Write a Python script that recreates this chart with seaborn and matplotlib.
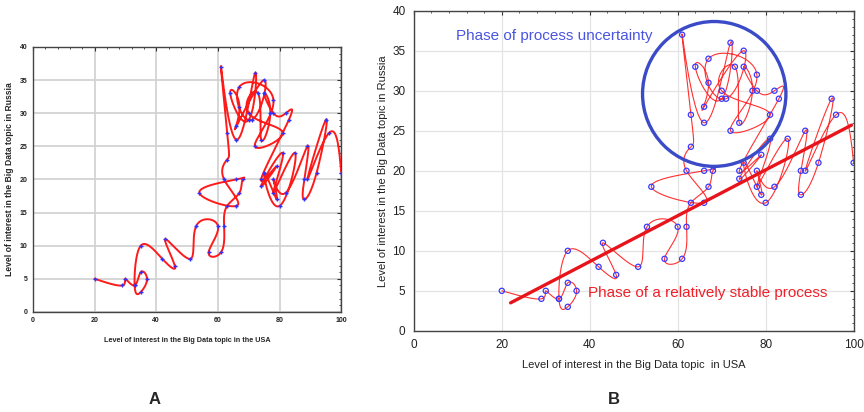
import numpy as np
import pandas as pd
import matplotlib
matplotlib.use("Agg")
import matplotlib.pyplot as plt
from matplotlib.patches import Ellipse
from matplotlib.ticker import MultipleLocator
import seaborn as sns

# ---- data (time-ordered observations) ----
usa = [20, 29, 30, 33, 35, 37, 35, 33, 35, 42, 46, 43, 51, 53, 60, 57, 61, 62,
       63, 67, 68, 66, 54, 66, 62, 63, 63, 61, 66, 72, 70, 64, 67, 66, 75, 71,
       67, 78, 72, 81, 70, 73, 74, 77, 75, 78, 82, 83, 74, 79, 74, 81, 78, 85,
       80, 75, 79, 78, 82, 89, 88, 88, 92, 95, 89, 96, 100]
russia = [5, 4, 5, 4, 6, 5, 3, 4, 10, 8, 7, 11, 8, 13, 13, 9, 9, 13,
          16, 18, 20, 20, 18, 16, 20, 23, 27, 37, 26, 36, 29, 33, 31, 28, 35, 29,
          34, 32, 25, 27, 30, 33, 26, 30, 33, 30, 30, 29, 20, 22, 19, 24, 18, 24,
          16, 21, 17, 20, 18, 25, 20, 17, 21, 29, 20, 27, 21]

# trend line of the stable phase
trend_usa = [22, 99.5]
trend_russia = [3.5, 25.7]

x_ticks = [0, 20, 40, 60, 80, 100]
y_ticks = [0, 5, 10, 15, 20, 25, 30, 35, 40]

label_x_a = "Level of interest in the Big Data topic in the USA"
label_y_a = "Level of interest in the Big Data topic in Russia"
label_x_b = "Level of interest in the Big Data topic  in USA"
label_y_b = "Level of interest in the Big Data topic in Russia"
text_unc = "Phase of process uncertainty"
text_stable = "Phase of a relatively stable process"


def natural_spline(v, n=24):
    v = np.asarray(v, float)
    m = len(v)
    A = np.zeros((m, m))
    b = np.zeros(m)
    A[0, 0] = A[-1, -1] = 1.0
    for i in range(1, m - 1):
        A[i, i - 1], A[i, i], A[i, i + 1] = 1.0, 4.0, 1.0
        b[i] = 6.0 * (v[i + 1] - 2 * v[i] + v[i - 1])
    M = np.linalg.solve(A, b)
    out = []
    t = np.linspace(0, 1, n, endpoint=False)
    for i in range(m - 1):
        s = (M[i] * (1 - t) ** 3 / 6 + M[i + 1] * t ** 3 / 6 +
             (v[i] - M[i] / 6) * (1 - t) + (v[i + 1] - M[i + 1] / 6) * t)
        out.append(s)
    out.append([v[-1]])
    return np.concatenate(out)


df = pd.DataFrame({"usa": usa, "russia": russia})
curve = pd.DataFrame({"usa": natural_spline(usa),
                      "russia": natural_spline(russia)})
trend = pd.DataFrame({"usa": trend_usa, "russia": trend_russia})

sns.set_style("white")
plt.rcParams["font.family"] = ["Liberation Sans", "DejaVu Sans"]

fig = plt.figure(figsize=(8.64, 4.12), dpi=100)
axA = fig.add_axes([0.038, 0.243, 0.357, 0.643])
axB = fig.add_axes([0.479, 0.197, 0.509, 0.777])

# ---- Panel A ----
sns.lineplot(data=curve, x="usa", y="russia", sort=False, ax=axA,
             color="#ff1a1a", lw=1.4, estimator=None, zorder=3)
sns.scatterplot(data=df, x="usa", y="russia", ax=axA, marker="+",
                color="#3030ff", s=12, linewidth=1.0, zorder=4)

# ---- Panel B ----
sns.lineplot(data=curve, x="usa", y="russia", sort=False, ax=axB,
             color="#ff3030", lw=0.8, estimator=None, zorder=3)
sns.scatterplot(data=df, x="usa", y="russia", ax=axB, marker="o",
                facecolor="none", edgecolor="#3a3aff", s=14, linewidth=0.9,
                zorder=4)
sns.lineplot(data=trend, x="usa", y="russia", ax=axB, color="#e8141c",
             lw=2.4, zorder=5, estimator=None)
axB.add_patch(Ellipse((68.3, 29.6), 32.6, 18.1, fill=False,
                      edgecolor="#3b4bc8", lw=2.4, zorder=6))
axB.text(9.5, 36.8, text_unc, color="#4a55e0", fontsize=11, va="center",
         ha="left")
axB.text(39.5, 4.7, text_stable, color="#f0202a", fontsize=11,
         va="center", ha="left")

for ax, grid_c, grid_w, fs, fw, pad in [(axA, "#d0d0d0", 1.2, 5, "bold", 4),
                                        (axB, "#e4e4e4", 0.9, 8.5, "normal", 6)]:
    ax.set_xlim(0, 100)
    ax.set_ylim(0, 40)
    ax.set_xticks(x_ticks)
    ax.set_yticks(y_ticks)
    ax.xaxis.set_minor_locator(MultipleLocator(4))
    ax.yaxis.set_minor_locator(MultipleLocator(1))
    ax.grid(True, which="major", color=grid_c, lw=grid_w, zorder=0)
    ax.set_axisbelow(True)
    ax.tick_params(which="both", direction="in", top=True, right=True,
                   labelsize=fs, colors="#333333", labelcolor="#222222",
                   pad=pad)
    ax.tick_params(which="major", length=3, width=0.8)
    ax.tick_params(which="minor", length=1.5, width=0.6)
    for lab in ax.get_xticklabels() + ax.get_yticklabels():
        lab.set_fontweight(fw)
    for sp in ax.spines.values():
        sp.set_color("#444444")
        sp.set_linewidth(1.0)

axA.set_xlabel(label_x_a, fontsize=5.2, fontweight="bold")
axA.set_ylabel(label_y_a, fontsize=6.2, fontweight="bold")
axA.xaxis.set_label_coords(0.5, -0.094)
axA.yaxis.set_label_coords(-0.062, 0.5)
axB.set_xlabel(label_x_b, fontsize=8, color="#222222")
axB.set_ylabel(label_y_b, fontsize=8, color="#222222")
axB.xaxis.set_label_coords(0.5, -0.09)
axB.yaxis.set_label_coords(-0.058, 0.5)

fig.text(155 / 864, 1 - 400 / 412, "A", fontsize=12, fontweight="bold",
         ha="center", va="center")
fig.text(614 / 864, 1 - 400 / 412, "B", fontsize=12, fontweight="bold",
         ha="center", va="center")

fig.savefig("out.png", dpi=100)
